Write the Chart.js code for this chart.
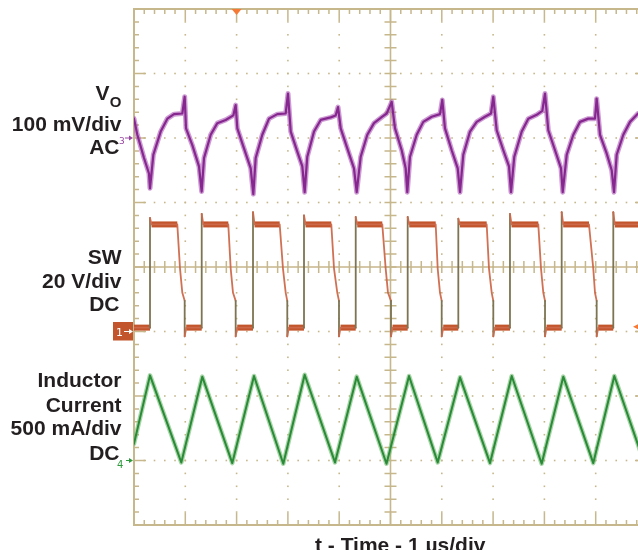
<!DOCTYPE html>
<html>
<head>
<meta charset="utf-8">
<script src="https://cdn.jsdelivr.net/npm/chart.js@4.4.1/dist/chart.umd.min.js"></script>
<style>
  html, body { margin: 0; padding: 0; background: #fff; overflow: hidden; }
  #wrap { width: 638px; height: 550px; overflow: hidden; position: relative; }
  canvas { display: block; }
</style>
</head>
<body>
<div id="wrap"><canvas id="scope" width="660" height="550"></canvas></div>
<script>
// --- time base: 1 us/div, 10 divisions ---
const timeDivs = [0, 1, 2, 3, 4, 5, 6, 7, 8, 9, 10];

// channel 3 : Vo, 100 mV/div AC, ground marker at +2 div
const voTime = [0.000,0.065,0.195,0.292,0.312,0.377,0.520,0.650,0.780,0.942,
  0.988,1.014,1.137,1.267,1.319,1.365,1.495,1.624,1.787,1.936,
  1.982,2.014,2.144,2.275,2.326,2.372,2.501,2.632,2.794,2.957,
  3.002,3.055,3.183,3.281,3.327,3.378,3.509,3.639,3.834,3.931,
  3.977,4.029,4.158,4.288,4.341,4.419,4.548,4.678,4.840,4.926,
  5.023,5.088,5.218,5.296,5.327,5.380,5.511,5.639,5.803,5.965,
  6.010,6.062,6.193,6.310,6.355,6.419,6.550,6.680,6.842,6.959,
  7.004,7.070,7.199,7.310,7.349,7.413,7.558,7.686,7.850,7.959,
  8.012,8.076,8.207,8.324,8.357,8.435,8.564,8.694,8.856,8.986,
  9.019,9.084,9.214,9.312,9.357,9.409,9.538,9.669,9.825,10.0];
const voMv = [30,5,-31,-55,-78,-26,10,30,37,38,
  64,15,-11,-44,-83,-31,5,23,28,35,
  51,15,-16,-47,-87,-31,5,30,37,38,
  69,10,-21,-44,-84,-29,10,28,32,35,
  48,15,-16,-47,-84,-29,5,23,33,38,
  56,15,-19,-47,-84,-29,5,25,33,37,
  59,15,-19,-47,-84,-26,10,25,33,38,
  64,12,-19,-44,-84,-29,10,30,36,42,
  69,12,-19,-47,-84,-26,5,25,30,30,
  61,5,-24,-50,-84,-26,5,25,38,40];

// channel 1 : SW node, 20 V/div DC, ground marker at -1 div
const swRise      = [0.312,1.320,2.320,3.314,4.322,5.335,6.322,7.329,8.337,9.343];
const swSpikeV    = [35.2,36.5,37.0,36.0,35.5,35.5,35.0,36.5,37.0,37.0];
const swFallStart = [0.844,1.838,2.840,3.846,4.840,5.881,6.875,7.881,8.869];
const swFallMid   = [0.897,1.885,2.904,3.899,4.906,5.920,6.920,7.934,8.953];
const swFallKnee  = [0.942,1.930,2.957,3.963,4.951,5.965,6.973,7.979,8.986];
const swFallEnd   = [0.988,1.982,2.988,3.996,5.010,5.998,7.004,8.012,9.019];
const swHighV = 33.2, swLowV = 1.2, swMidV = 19.5, swKneeV = 12, swKneeEndV = 9.5, swUnderV = -1.5;

// channel 4 : inductor current, 500 mA/div DC, ground marker at -3 div
const ilTime = [0,0.312,0.922,1.331,1.916,2.339,2.910,3.327,3.918,4.341,4.922,
  5.361,5.920,6.355,6.940,7.363,7.947,8.368,8.953,9.363,9.948,10.0];
const ilMa = [130,660,-15,650,-20,655,-25,665,-15,650,-25,
  655,-15,645,-20,655,-25,650,-20,655,-20,40];

const voPerDiv = 100, voGnd = 2;
const swPerDiv = 20, swGnd = -1;
const ilPerDiv = 500, ilGnd = -3;
const trigTime = 2, trigLevelV = 1.5;

const GRID = '#c6b78c';
const INK = '#231f20';
const ORANGE = '#c2552b';

const voData = voTime.map((t, i) => ({ x: t, y: voGnd + voMv[i] / voPerDiv }));
const ilData = ilTime.map((t, i) => ({ x: t, y: ilGnd + ilMa[i] / ilPerDiv }));

function swPoint(t, v) { return { x: t, y: swGnd + v / swPerDiv }; }
const swData = [swPoint(0, swLowV)];
swRise.forEach((tr, i) => {
  swData.push(swPoint(tr, swLowV), swPoint(tr, swSpikeV[i]), swPoint(tr + 0.03, swHighV));
  if (i < swFallStart.length) {
    swData.push(
      swPoint(swFallStart[i], swHighV),
      swPoint(swFallMid[i], swMidV),
      swPoint(swFallKnee[i], swKneeV),
      swPoint(swFallEnd[i], swKneeEndV),
      swPoint(swFallEnd[i], swUnderV),
      swPoint(swFallEnd[i] + 0.03, swLowV));
  } else {
    swData.push(swPoint(10, swHighV));
  }
});

const graticule = {
  id: 'graticule',
  beforeDatasetsDraw(chart) {
    const { ctx, chartArea: a, scales: { x, y } } = chart;
    ctx.save();
    ctx.fillStyle = GRID;
    // dotted major lines
    timeDivs.forEach(d => {
      if (d === 0 || d === 5 || d === 10) return;
      const px = x.getPixelForValue(d);
      for (let j = 1; j < 40; j++) {
        const py = y.getPixelForValue(-4 + j * 0.2);
        ctx.fillRect(px - 0.8, py - 0.8, 1.6, 1.6);
      }
    });
    for (let d = -3; d <= 3; d++) {
      if (d === 0) continue;
      const py = y.getPixelForValue(d);
      for (let j = 1; j < 50; j++) {
        const px = x.getPixelForValue(j * 0.2);
        ctx.fillRect(px - 0.8, py - 0.8, 1.6, 1.6);
      }
    }
    ctx.strokeStyle = GRID;
    // frame
    ctx.lineWidth = 2;
    ctx.strokeRect(a.left, a.top, a.width, a.height);
    // centre cross
    const cx = x.getPixelForValue(5), cy = y.getPixelForValue(0);
    ctx.lineWidth = 1.6;
    ctx.beginPath();
    ctx.moveTo(a.left, cy); ctx.lineTo(a.right, cy);
    ctx.moveTo(cx, a.top); ctx.lineTo(cx, a.bottom);
    ctx.stroke();
    // ticks
    ctx.lineWidth = 1.5;
    ctx.beginPath();
    for (let j = 1; j < 50; j++) {
      const px = x.getPixelForValue(j * 0.2);
      const len = j % 5 === 0 ? 12 : 5;
      ctx.moveTo(px, a.top); ctx.lineTo(px, a.top + len);
      ctx.moveTo(px, a.bottom); ctx.lineTo(px, a.bottom - len);
      ctx.moveTo(px, cy - 6); ctx.lineTo(px, cy + 6);
    }
    for (let j = 1; j < 40; j++) {
      const py = y.getPixelForValue(-4 + j * 0.2);
      const len = j % 5 === 0 ? 12 : 5;
      ctx.moveTo(a.left, py); ctx.lineTo(a.left + len, py);
      ctx.moveTo(a.right, py); ctx.lineTo(a.right - len, py);
      ctx.moveTo(cx - 6, py); ctx.lineTo(cx + 6, py);
    }
    ctx.stroke();
    ctx.restore();
  }
};

const annotations = {
  id: 'annotations',
  afterDraw(chart) {
    const { ctx, chartArea: a, scales: { x, y } } = chart;
    ctx.save();
    ctx.fillStyle = INK;
    ctx.textAlign = 'right';
    ctx.textBaseline = 'alphabetic';
    const big = 'bold 21px "Liberation Sans", Arial, sans-serif';
    ctx.font = big;
    // Vo with subscript
    ctx.fillText('V', 109.5, 100);
    ctx.font = 'bold 15px "Liberation Sans", Arial, sans-serif';
    ctx.fillText('O', 121.5, 107);
    ctx.font = big;
    [['100 mV/div', 131], ['AC', 154], ['SW', 264], ['20 V/div', 288], ['DC', 311],
     ['Inductor', 387], ['Current', 411.5], ['500 mA/div', 435], ['DC', 460]]
      .forEach(([s, by]) => ctx.fillText(s, s === 'AC' || s === 'DC' ? 119.5 : 121.5, by));
    ctx.textAlign = 'left';
    ctx.fillText('t - Time - 1 \u00b5s/div', 315, 552);

    // channel markers
    const arrow = (x0, x1, yy, col) => {
      ctx.strokeStyle = col; ctx.fillStyle = col; ctx.lineWidth = 1;
      ctx.beginPath(); ctx.moveTo(x0, yy); ctx.lineTo(x1 - 3, yy); ctx.stroke();
      ctx.beginPath(); ctx.moveTo(x1, yy); ctx.lineTo(x1 - 4, yy - 2.5); ctx.lineTo(x1 - 4, yy + 2.5); ctx.closePath(); ctx.fill();
    };
    const y3 = y.getPixelForValue(voGnd);
    ctx.fillStyle = '#9a46a4';
    ctx.font = '9px "DejaVu Sans", sans-serif';
    ctx.fillText('3', 119, y3 + 6);
    arrow(125, a.left - 1, y3, '#9a46a4');

    const y1 = y.getPixelForValue(swGnd);
    ctx.fillStyle = ORANGE;
    ctx.fillRect(113, y1 - 9.5, 20, 18.5);
    ctx.fillStyle = '#fff';
    ctx.font = '11px "DejaVu Sans", sans-serif';
    ctx.fillText('1', 116, y1 + 4);
    arrow(124, a.left - 1, y1, '#fff');

    const y4 = y.getPixelForValue(ilGnd);
    ctx.fillStyle = '#2f9a3e';
    ctx.font = '10px "DejaVu Sans", sans-serif';
    ctx.fillText('4', 117, y4 + 7);
    arrow(126, a.left - 1, y4, '#2f9a3e');

    // trigger position and level
    const tx = x.getPixelForValue(trigTime);
    ctx.fillStyle = '#f47a35';
    ctx.beginPath(); ctx.moveTo(tx - 5, a.top); ctx.lineTo(tx + 5, a.top); ctx.lineTo(tx, a.top + 6); ctx.closePath(); ctx.fill();
    const ty = y.getPixelForValue(swGnd + trigLevelV / swPerDiv);
    ctx.beginPath(); ctx.moveTo(633, ty); ctx.lineTo(643, ty - 5); ctx.lineTo(643, ty + 5); ctx.closePath(); ctx.fill();
    ctx.restore();
  }
};

const line = (data, color, width, order, extra) => Object.assign({
  data, showLine: true, borderColor: color, borderWidth: width, pointRadius: 0,
  tension: 0, order, borderJoinStyle: 'round', borderCapStyle: 'round'
}, extra || {});

new Chart(document.getElementById('scope').getContext('2d'), {
  type: 'scatter',
  data: {
    datasets: [
      line(voData, '#86278f', 2.2, 1),
      line(voData, 'rgba(172,88,182,0.6)', 5, 2),
      line(swData, '#7d7452', 1.8, 3, {
        segment: { borderColor: c => Math.abs(c.p1.parsed.x - c.p0.parsed.x) < 0.005 ? '#7d7452' : 'rgba(205,105,75,0.95)' }
      }),
      line(swData, ORANGE, 6, 4, {
        borderJoinStyle: 'miter', borderCapStyle: 'butt',
        segment: { borderColor: c => Math.abs(c.p1.parsed.y - c.p0.parsed.y) > 0.05 ? 'rgba(0,0,0,0)' : ORANGE }
      }),
      line(ilData, '#2a8a37', 2, 5),
      line(ilData, 'rgba(110,186,110,0.6)', 4.5, 6)
    ]
  },
  options: {
    responsive: false,
    animation: false,
    layout: { padding: { left: 134, right: 13, top: 9, bottom: 25 } },
    scales: {
      x: { type: 'linear', min: 0, max: 10, display: false },
      y: { type: 'linear', min: -4, max: 4, display: false }
    },
    plugins: { legend: { display: false }, tooltip: { enabled: false } }
  },
  plugins: [graticule, annotations]
});
</script>
</body>
</html>
